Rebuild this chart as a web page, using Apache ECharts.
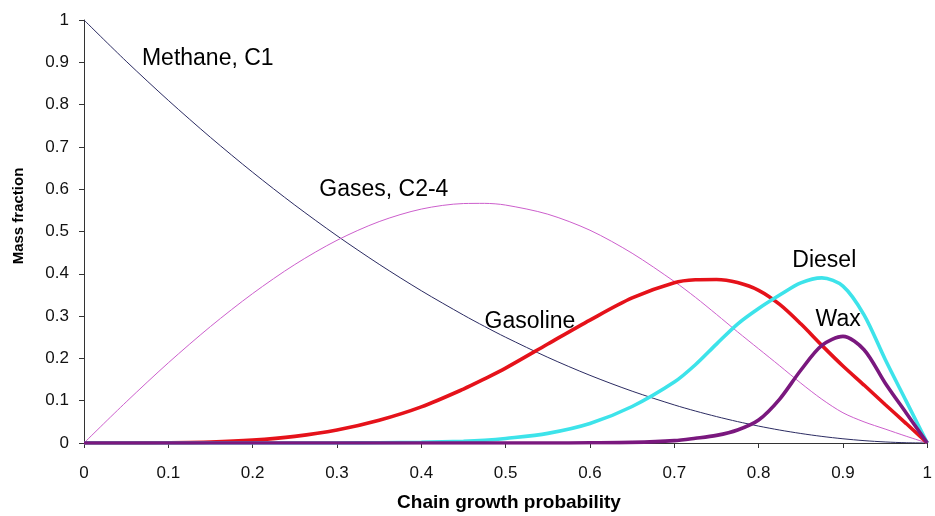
<!DOCTYPE html>
<html>
<head>
<meta charset="utf-8">
<script src="https://cdn.jsdelivr.net/npm/echarts@6/dist/echarts.min.js"></script>
<style>
  html, body { margin: 0; padding: 0; background: #fff; }
  #chart { width: 935px; height: 516px; }
</style>
</head>
<body>
<div id="chart"></div>
<script>
// Chain growth probability (x) at which the curves were read
const alpha = [0, 0.05, 0.1, 0.15, 0.2, 0.25, 0.3, 0.35, 0.4, 0.45, 0.475, 0.5, 0.55, 0.6, 0.65,
               0.7, 0.725, 0.75, 0.775, 0.8, 0.825, 0.85, 0.875, 0.9, 0.925, 0.95, 0.975, 1.0];
// Mass fractions
const methane  = [1, 0.9025, 0.81, 0.7225, 0.64, 0.5625, 0.49, 0.4225, 0.36, 0.3025, 0.2756, 0.25, 0.2025, 0.16, 0.1225,
                  0.09, 0.0756, 0.0625, 0.0506, 0.04, 0.0306, 0.0225, 0.0156, 0.01, 0.0056, 0.0025, 0.0006, 0];
const gases    = [0, 0.097, 0.1895, 0.2754, 0.3533, 0.4219, 0.4792, 0.5234, 0.553, 0.5661, 0.5665, 0.5625, 0.5409, 0.503, 0.4486,
                  0.3818, 0.3445, 0.3041, 0.2628, 0.2227, 0.1825, 0.1416, 0.1035, 0.0715, 0.05, 0.033, 0.016, 0];
const gasoline = [0, 0.0001, 0.0005, 0.0021, 0.0067, 0.0156, 0.0306, 0.0537, 0.0853, 0.1275, 0.1516, 0.177, 0.234, 0.2906, 0.343,
                  0.379, 0.3858, 0.3867, 0.3794, 0.361, 0.3276, 0.2818, 0.2308, 0.182, 0.137, 0.091, 0.046, 0];
const diesel   = [0, 0, 0, 0, 0, 0, 0.0001, 0.0006, 0.0017, 0.0041, 0.0065, 0.0108, 0.0228, 0.046, 0.0863,
                  0.144, 0.185, 0.2338, 0.2812, 0.318, 0.3498, 0.3786, 0.3904, 0.371, 0.303, 0.198, 0.099, 0];
const wax      = [0, 0, 0, 0, 0, 0, 0, 0, 0, 0, 0, 0, 0, 0.0005, 0.0015,
                  0.0056, 0.0112, 0.018, 0.0308, 0.0544, 0.1039, 0.172, 0.2307, 0.252, 0.2206, 0.142, 0.071, 0];

const seriesNames = ['Methane, C1', 'Gases, C2-4', 'Gasoline', 'Diesel', 'Wax'];
// Curve labels (text, x at left edge, y at baseline, in data units)
const labelTexts = ['Methane, C1', 'Gases, C2-4', 'Gasoline', 'Diesel', 'Wax'];
const labelX = [0.0687, 0.279, 0.475, 0.840, 0.8675];
const labelY = [0.890, 0.581, 0.269, 0.413, 0.272];

const xTicks = [0, 0.1, 0.2, 0.3, 0.4, 0.5, 0.6, 0.7, 0.8, 0.9, 1];
const yTicks = [0, 0.1, 0.2, 0.3, 0.4, 0.5, 0.6, 0.7, 0.8, 0.9, 1];

const FONT = "'Liberation Sans', Arial, Helvetica, sans-serif";

function pairs(ys) { return alpha.map((a, i) => [a, ys[i]]); }

const styles = [
  { color: '#2b2b62', width: 1 },
  { color: '#cc5fcc', width: 1 },
  { color: '#e5121a', width: 3.6 },
  { color: '#3de3ea', width: 3.6 },
  { color: '#7a187e', width: 3.6 }
];
const allData = [methane, gases, gasoline, diesel, wax];

const chart = echarts.init(document.getElementById('chart'), null, { renderer: 'canvas' });

const option = {
  animation: false,
  backgroundColor: '#ffffff',
  grid: { left: 84, right: 4.5, top: 20, bottom: 73, containLabel: false },
  xAxis: {
    type: 'value', min: xTicks[0], max: xTicks[xTicks.length - 1], interval: 0.1,
    axisLine: { show: true, onZero: false, lineStyle: { color: '#333', width: 1 } },
    axisTick: { show: true, length: 5, inside: false, lineStyle: { color: '#333' } },
    splitLine: { show: false },
    axisLabel: { color: '#111', fontSize: 17, fontFamily: FONT, margin: 22 }
  },
  yAxis: {
    type: 'value', min: yTicks[0], max: yTicks[yTicks.length - 1], interval: 0.1,
    axisLine: { show: true, lineStyle: { color: '#333', width: 1 } },
    axisTick: { show: true, length: 5, inside: false, lineStyle: { color: '#333' } },
    splitLine: { show: false },
    axisLabel: { color: '#111', fontSize: 17, fontFamily: FONT, margin: 15 }
  },
  series: allData.map((d, i) => ({
    name: seriesNames[i],
    type: 'line',
    data: pairs(d),
    smooth: 0.3,
    showSymbol: false,
    symbol: 'none',
    clip: true,
    lineStyle: { color: styles[i].color, width: styles[i].width },
    itemStyle: { color: styles[i].color },
    z: 2 + i
  }))
};
chart.setOption(option);

// Place curve labels and axis titles
const graphics = labelTexts.map((t, i) => {
  const p = chart.convertToPixel({ gridIndex: 0 }, [labelX[i], labelY[i]]);
  return {
    type: 'text',
    x: p[0],
    y: p[1] - 0.35 * 23,
    z: 10,
    style: { text: t, font: "23px " + FONT, fill: '#000', align: 'left', verticalAlign: 'middle',
             textAlign: 'left', textVerticalAlign: 'middle' }
  };
});
graphics.push({
  type: 'text', x: 19, y: 216, rotation: Math.PI / 2, z: 10,
  style: { text: 'Mass fraction', font: "bold 15px " + FONT, fill: '#000',
           align: 'center', verticalAlign: 'middle', textAlign: 'center', textVerticalAlign: 'middle' }
});
graphics.push({
  type: 'text', x: 509, y: 503, z: 10,
  style: { text: 'Chain growth probability', font: "bold 19px " + FONT, fill: '#000',
           align: 'center', verticalAlign: 'middle', textAlign: 'center', textVerticalAlign: 'middle' }
});
chart.setOption({ graphic: graphics });
</script>
</body>
</html>
